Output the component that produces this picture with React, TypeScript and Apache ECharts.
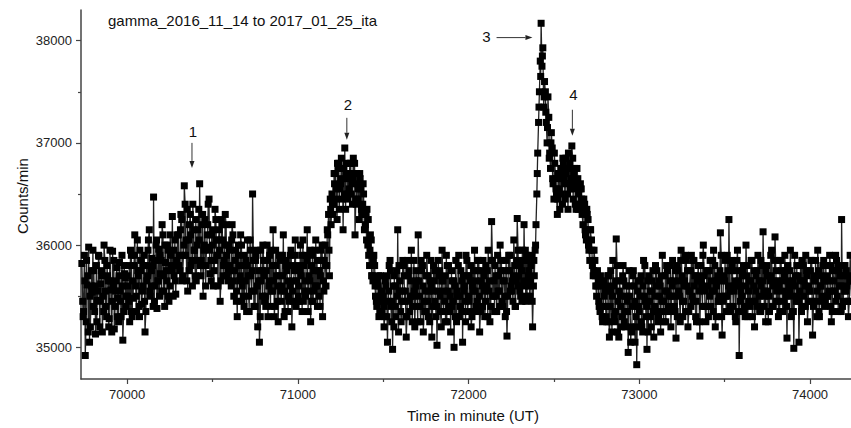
import { useEffect, useRef } from "react";
import * as echarts from "echarts";

const TITLE = "gamma_2016_11_14 to 2017_01_25_ita";
const X_NAME = "Time in minute (UT)";
const Y_NAME = "Counts/min";

// three interleaved sampling phases on a 10-minute grid:
// countsA at 69735 + 10·i, countsB at 69740 + 10·i, countsC at 69742.5 + 10·i
const START_MINUTE = 69735;
const STEP_MINUTES = 10;
const PHASE_B = 5;
const PHASE_C = 7.5;

const countsA = [
  // 69735 – 69995
  35820, 35350, 34920, 35610, 35980, 35200, 35540, 35750, 35130, 35460, 35890, 35620, 35150, 36000, 35400, 35700, 35280, 35560, 35940, 35180, 35650, 35480, 35830, 35300, 35070, 35720, 35500,
  // 70005 – 70295
  35600, 35250, 35900, 35480, 36100, 35350, 35700, 35950, 35420, 35800, 35150, 35650, 36050, 35500, 35870, 36470, 35600, 35380, 35960, 35720, 36200, 35550, 35830, 36000, 35450, 35900, 36280, 35700, 35520, 36100,
  // 70305 – 70595 (event 1)
  35900, 36300, 35700, 36580, 36050, 35550, 36200, 35800, 36400, 35950, 35650, 36150, 36600, 35850, 35500, 36250, 35980, 36400, 35720, 36100, 35600, 36350, 35900, 36050, 35450, 36200, 35800, 36300, 35700, 36000,
  // 70605 – 70995
  35750, 36200, 35500, 35950, 35300, 35800, 36100, 35600, 35400, 35850, 36050, 35350, 35700, 36500, 35550, 35900, 35200, 35050, 35650, 36000, 35450, 35750, 35300, 35900, 35550, 36150, 35400, 35700, 35250, 35850, 35600, 36100, 35350, 35750, 35500, 35900, 35200, 35650, 36050, 35450,
  // 71005 – 71195
  35600, 36000, 35350, 35800, 35500, 36150, 35700, 35250, 35900, 35550, 36050, 35400, 35750, 35950, 35300, 35850, 35600, 36100, 35700, 36200,
  // 71205 – 71495 (event 2)
  36300, 36600, 36450, 36750, 36550, 36850, 36150, 36950, 36700, 36500, 36800, 36600, 36850, 36100, 36700, 36550, 36650, 36300, 36500, 36200, 36350, 35900, 36100, 35700, 35900, 35500, 35650, 35300, 35700, 35450,
  // 71505 – 72355
  35200, 35600, 35050, 35800, 35400, 34980, 35700, 35300, 36150, 35550,
  35250, 35850, 35450, 35100, 35700, 35350, 35950, 35500, 35200, 35650,
  36100, 35400, 35750, 35150, 35550, 35900, 35300, 35650, 35100, 35800,
  35450, 35020, 35700, 35350, 35950, 35550, 35250, 35800, 35400, 35150,
  35650, 35000, 35850, 35500, 35300, 35750, 35050, 35600, 35900, 35350,
  35700, 35200, 35550, 35950, 35400, 35750, 35150, 35650, 35850, 35300,
  35600, 35950, 35250, 36230, 35500, 35800, 35350, 35700, 36000, 35450,
  35750, 35300, 35110, 35900, 35550, 35650, 36050, 35400, 36260, 35700,
  35500, 35950, 36200, 35450, 35850, 35600,
  // 72365 – 72795 (events 3 and 4)
  35800, 35200, 35700, 36200, 36900, 37500, 38170, 37930, 37600, 37200,
  37450, 36900, 37100, 36600, 36800, 36500, 36700, 36350, 36650, 36800,
  36450, 36750, 36900, 36550, 36970, 36700, 36400, 36750, 36500, 36600,
  36300, 36450, 36100, 36300, 35950, 36150, 35800, 35950, 35600, 35750,
  35400, 35650, 35250, 35500,
  // 72805 – 73195
  35300, 35700, 35100, 35550, 35850, 35250, 36060, 35450, 35650, 35200,
  35800, 35350, 35600, 34950, 35500, 35150, 35750, 35050, 34830, 35400,
  35650, 35200, 35850, 35450, 34980, 35700, 35300, 35550, 35100, 35800,
  35350, 35650, 35150, 35900, 35450, 35250, 35750, 35500, 35200, 35850,
  // 73205 – 74245
  35400, 35090, 35750, 35500, 35950, 35300, 35650, 35850, 35200, 35550,
  35900, 35450, 35700, 35250, 35800, 35110, 35600, 36000, 35400, 35750,
  35300, 35850, 35550, 35950, 35200, 35650, 35450, 36120, 35120, 35700,
  35500, 35900, 36250, 35350, 35800, 35600, 35250, 35950, 34920, 35550,
  35750, 35400, 36000, 35300, 35650, 35850, 35450, 35200, 35700, 35900,
  35350, 35600, 36130, 35500, 35800, 35250, 35650, 35950, 35400, 36080,
  35550, 35300, 35850, 35650, 35450, 35750, 35090, 35600, 35950, 35350,
  34990, 35700, 35500, 35050, 35800, 35400, 35650, 35900, 35250, 35550,
  35850, 35120, 35700, 35450, 35950, 35300, 35600, 35800, 35400, 35650,
  35500, 35900, 35250, 35750, 35550, 35850, 35350, 35700, 36250, 35450,
  35800, 35600, 35300, 35900, 35550,
];

const countsB = [
  // 69740 – 69990
  35450, 35900, 35250, 35700, 35050, 35600, 35950, 35350, 35800, 35550, 35200, 35750, 35500, 35850, 35300, 35650, 35950, 35150, 35600, 35400, 35780, 35250, 35550, 35900, 35350, 35680,
  // 70000 – 70290
  35700, 35450, 35950, 35300, 35800, 35600, 36050, 35400, 35750, 35550,
  35900, 35350, 35700, 36150, 35600, 35800, 35450, 36000, 35650, 35500,
  35850, 36100, 35400, 35750, 35950, 35600, 35800, 35500, 36050, 35850,
  // 70300 – 70590
  36100, 35750, 36250, 35900, 36400, 35650, 36050, 36300, 35850, 36150,
  35700, 36000, 36350, 35800, 36200, 35950, 35600, 36100, 36450, 35850,
  36000, 35750, 36250, 35900, 36150, 35650, 36050, 35850, 36200, 35750,
  // 70600 – 70990
  35950, 35600, 36100, 35750, 35450, 35900, 35650, 36000, 35500, 35800,
  35350, 35700, 36050, 35550, 35850, 35400, 35950, 35650, 35300, 35750,
  35850, 35500, 36000, 35600, 35400, 35800, 35650, 35950, 35450, 35700,
  35550, 35900, 35300, 35800, 35650, 35450, 35950, 35550, 35750, 35400,
  // 71000 – 71190
  35800, 35450, 35700, 36050, 35550, 35900, 35350, 35650, 35800, 35450,
  35950, 35600, 35750, 35400, 35850, 35650, 36000, 35800, 36300, 36450,
  // 71200 – 71490
  36500, 36400, 36700, 36250, 36800, 36600, 36450, 36750, 36350, 36650,
  36550, 36800, 36400, 36700, 36450, 36600, 36250, 36550, 36400, 36150,
  36300, 36000, 35800, 36050, 35650, 35800, 35450, 35600, 35350, 35550,
  // 71500 – 72350
  35500, 35300, 35700, 35450, 35850, 35250, 35600, 35400, 35750, 35150,
  35650, 35450, 35800, 35550, 35300, 35750, 35500, 35250, 35850, 35600,
  35400, 35650, 35250, 35800, 35450, 35350, 35700, 35550, 35850, 35400,
  35650, 35300, 35550, 35750, 35200, 35650, 35450, 35900, 35550, 35350,
  35750, 35450, 35600, 35250, 35800, 35500, 35350, 35700, 35450, 35850,
  35500, 35650, 35300, 35750, 35550, 35450, 35850, 35350, 35600, 35700,
  35450, 35750, 35550, 35400, 35850, 35650, 35500, 35900, 35550, 35750,
  35400, 35650, 35850, 35500, 35750, 35600, 35450, 35800, 35650, 35950,
  35550, 35750, 35850, 35600, 35900, 35700,
  // 72360 – 72790
  35500, 35900, 35600, 35950, 36500, 37200, 37800, 37750, 37350, 37500,
  37000, 37250, 36750, 36950, 36450, 36650, 36300, 36550, 36750, 36400,
  36650, 36850, 36500, 36750, 36600, 36850, 36550, 36350, 36650, 36400,
  36550, 36200, 36400, 36050, 36250, 35850, 36050, 35700, 35850, 35500,
  35650, 35350, 35600, 35400,
  // 72800 – 73190
  35550, 35250, 35700, 35400, 35150, 35600, 35350, 35800, 35100, 35500,
  35300, 35650, 35200, 35450, 35750, 35050, 35400, 35600, 35200, 35550,
  35350, 35700, 35150, 35500, 35300, 35650, 35450, 35200, 35750, 35400,
  35600, 35250, 35500, 35700, 35350, 35550, 35800, 35400, 35650, 35500,
  // 73200 – 74240
  35650, 35350, 35800, 35550, 35250, 35700, 35450, 35900, 35600, 35350,
  35750, 35500, 35850, 35300, 35650, 35550, 35800, 35400, 35700, 35250,
  35600, 35750, 35400, 35850, 35550, 35300, 35700, 35500, 35900, 35450,
  35650, 35350, 35750, 35550, 35850, 35400, 35650, 35750, 35350, 35600,
  35500, 35800, 35300, 35700, 35550, 35400, 35850, 35600, 35450, 35750,
  35650, 35350, 35800, 35550, 35250, 35700, 35500, 35900, 35400, 35650,
  35750, 35450, 35600, 35850, 35350, 35700, 35500, 35800, 35550, 35300,
  35650, 35900, 35450, 35700, 35550, 35350, 35800, 35600, 35750, 35450,
  35550, 35850, 35400, 35650, 35300, 35750, 35600, 35500, 35850, 35450,
  35700, 35550, 35800, 35350, 35650, 35900, 35500, 35750, 35600, 35400,
  35800, 35550, 35700, 35450, 35650,
];

const countsC = [
  // 69742.5 – 69992.5
  35300, 35650, 35850, 35150, 35500, 35750, 35400, 35600, 35250, 35900, 35450, 35700, 35350, 35550, 35800, 35200, 35650, 35450, 35850, 35550, 35300, 35700, 35450, 35600, 35800, 35400,
  // 70002.5 – 70292.5
  35500, 35800, 35350, 35650, 35900, 35500, 35750, 35300, 35850, 35600,
  35450, 35800, 35950, 35550, 35750, 35400, 35850, 36050, 35650, 35900,
  35550, 35700, 36000, 35650, 35500, 36100, 35750, 35950, 35650, 35800,
  // 70302.5 – 70592.5
  35800, 36150, 35650, 36000, 35900, 36350, 35750, 36100, 35600, 35950,
  36250, 35850, 36050, 35700, 36300, 36000, 35800, 36200, 35950, 35650,
  36150, 35850, 36050, 35600, 35950, 36250, 35700, 36000, 35900, 35650,
  // 70602.5 – 70992.5
  35800, 36050, 35650, 35850, 35550, 36000, 35700, 35450, 35900, 35650,
  35800, 35500, 35950, 35750, 35400, 35850, 35600, 35750, 35950, 35500,
  35700, 35400, 35850, 35650, 35950, 35550, 35300, 35800, 35600, 35900,
  35450, 35700, 35550, 35850, 35350, 35600, 35800, 35450, 35900, 35650,
  // 71002.5 – 71192.5
  35500, 35750, 35900, 35450, 35650, 35850, 35550, 35950, 35450, 35750,
  35600, 35850, 35500, 35700, 36000, 35550, 35800, 36150, 35950, 36350,
  // 71202.5 – 71492.5
  36400, 36700, 36550, 36800, 36350, 36650, 36750, 36500, 36800, 36450,
  36700, 36500, 36650, 36800, 36400, 36450, 36700, 36350, 36600, 36300,
  36050, 36250, 35950, 35700, 35850, 35600, 35400, 35700, 35500, 35350,
  // 71502.5 – 72352.5
  35400, 35650, 35300, 35550, 35750, 35450, 35200, 35600, 35500, 35800,
  35350, 35550, 35700, 35300, 35850, 35450, 35650, 35400, 35550, 35750,
  35250, 35500, 35850, 35600, 35350, 35700, 35450, 35250, 35600, 35550,
  35750, 35400, 35850, 35500, 35650, 35350, 35700, 35250, 35800, 35500,
  35400, 35650, 35300, 35550, 35900, 35400, 35650, 35550, 35250, 35700,
  35450, 35800, 35600, 35350, 35650, 35850, 35500, 35750, 35400, 35550,
  35800, 35300, 35650, 35850, 35500, 35350, 35700, 35550, 35400, 35850,
  35650, 35500, 35350, 35750, 35900, 35550, 35700, 35400, 35850, 35600,
  35800, 35450, 35650, 35950, 35500, 35750,
  // 72362.5 – 72792.5
  35650, 35450, 35850, 36000, 36700, 37350, 37650, 37850, 37450, 37300,
  37150, 36850, 37000, 36650, 36900, 36550, 36450, 36700, 36500, 36850,
  36600, 36700, 36350, 36800, 36650, 36450, 36750, 36600, 36350, 36550,
  36450, 36350, 36150, 36350, 36000, 36150, 35950, 35750, 35700, 35600,
  35450, 35700, 35300, 35650,
  // 72802.5 – 73192.5
  35400, 35600, 35250, 35750, 35500, 35300, 35650, 35150, 35550, 35400,
  35700, 35250, 35500, 35350, 35600, 35200, 35700, 35450, 35300, 35650,
  35500, 35250, 35600, 35800, 35400, 35150, 35550, 35650, 35350, 35500,
  35750, 35300, 35600, 35450, 35250, 35700, 35550, 35350, 35800, 35600,
  // 73202.5 – 74242.5
  35500, 35750, 35300, 35650, 35850, 35450, 35600, 35350, 35750, 35550,
  35400, 35850, 35600, 35450, 35700, 35250, 35650, 35900, 35550, 35400,
  35750, 35500, 35650, 35350, 35800, 35600, 35450, 35750, 35300, 35650,
  35850, 35500, 35600, 35400, 35750, 35550, 35300, 35850, 35650, 35450,
  35700, 35350, 35600, 35800, 35450, 35650, 35300, 35750, 35550, 35400,
  35500, 35850, 35650, 35400, 35750, 35550, 35350, 35700, 35600, 35850,
  35450, 35650, 35350, 35750, 35550, 35900, 35400, 35650, 35750, 35500,
  35350, 35600, 35800, 35450, 35650, 35850, 35500, 35400, 35700, 35600,
  35750, 35450, 35650, 35850, 35550, 35350, 35700, 35450, 35650, 35800,
  35500, 35650, 35400, 35750, 35550, 35450, 35800, 35600, 35350, 35700,
  35550, 35750, 35450, 35650, 35500,
];

const xMajorTicks = [70000, 71000, 72000, 73000, 74000];
const xMinorTicks = [70500, 71500, 72500, 73500];
const yMajorTicks = [35000, 36000, 37000, 38000];
const yMinorTicks = [35500, 36500, 37500];

// peak annotations (data coordinates)
const peakLabels = ["1", "2", "3", "4"];
const labelAt = [
  [70385, 37110],
  [71293, 37373],
  [72105, 38040],
  [72614, 37470],
];
const arrowFrom = [
  [70380, 37000],
  [71287, 37245],
  [72164, 38030],
  [72608, 37324],
];
const arrowTo = [
  [70380, 36755],
  [71287, 37030],
  [72374, 38030],
  [72608, 37069],
];

const FONT = "Arial, 'Liberation Sans', sans-serif";

export default function App() {
  const ref = useRef<HTMLDivElement>(null);

  useEffect(() => {
    if (!ref.current) return;
    const chart = echarts.init(ref.current, undefined, { renderer: "svg" });

    const data: number[][] = [];
    countsA.forEach((c, i) => {
      const t = START_MINUTE + i * STEP_MINUTES;
      data.push([t, c]);
      if (i < countsB.length) data.push([t + PHASE_B, countsB[i]]);
      if (i < countsC.length) data.push([t + PHASE_C, countsC[i]]);
    });

    const axisColor = "#444";
    const plainLabel = (v: number) => String(v);
    chart.setOption({
      animation: false,
      backgroundColor: "#fff",
      grid: { left: 81, top: 10, width: 770, height: 369, containLabel: false },
      xAxis: [
        {
          type: "value",
          min: 69730,
          max: 74240,
          axisLine: { show: true, lineStyle: { color: axisColor, width: 1.5 } },
          axisTick: { show: true, customValues: xMajorTicks, length: 5, lineStyle: { color: axisColor, width: 1.2 } },
          axisLabel: { customValues: xMajorTicks, formatter: plainLabel, color: "#222", fontSize: 13, fontFamily: FONT, margin: 9 },
          splitLine: { show: false },
        },
        {
          type: "value",
          min: 69730,
          max: 74240,
          position: "bottom",
          axisLine: { show: false },
          axisTick: { show: true, customValues: xMinorTicks, length: 3, lineStyle: { color: axisColor, width: 1.2 } },
          axisLabel: { show: false },
          splitLine: { show: false },
        },
      ],
      yAxis: [
        {
          type: "value",
          min: 34690,
          max: 38300,
          axisLine: { show: true, lineStyle: { color: axisColor, width: 1.5 } },
          axisTick: { show: true, customValues: yMajorTicks, length: 5, lineStyle: { color: axisColor, width: 1.2 } },
          axisLabel: { customValues: yMajorTicks, formatter: plainLabel, color: "#222", fontSize: 13, fontFamily: FONT, margin: 9 },
          splitLine: { show: false },
        },
        {
          type: "value",
          min: 34690,
          max: 38300,
          position: "left",
          axisLine: { show: false },
          axisTick: { show: true, customValues: yMinorTicks, length: 3, lineStyle: { color: axisColor, width: 1.2 } },
          axisLabel: { show: false },
          splitLine: { show: false },
        },
      ],
      series: [
        {
          type: "line",
          data,
          xAxisIndex: 0,
          yAxisIndex: 0,
          symbol: "rect",
          symbolSize: 7,
          showSymbol: true,
          showAllSymbol: true,
          itemStyle: { color: "#000" },
          lineStyle: { color: "#222", width: 1.3 },
          z: 2,
        },
      ],
    });

    const graphics: any[] = [
      {
        type: "text",
        left: 108,
        top: 13,
        style: { text: TITLE, fill: "#111", font: `15px ${FONT}` },
      },
      {
        type: "text",
        x: 473,
        y: 415,
        style: { text: X_NAME, fill: "#111", font: `15px ${FONT}`, align: "center", verticalAlign: "middle" },
      },
      {
        type: "text",
        x: 22,
        y: 196,
        rotation: Math.PI / 2,
        style: { text: Y_NAME, fill: "#111", font: `15px ${FONT}`, align: "center", verticalAlign: "middle" },
      },
    ];

    peakLabels.forEach((lab, i) => {
      const lp = chart.convertToPixel({ gridIndex: 0 }, labelAt[i]) as number[];
      const a = chart.convertToPixel({ gridIndex: 0 }, arrowFrom[i]) as number[];
      const b = chart.convertToPixel({ gridIndex: 0 }, arrowTo[i]) as number[];
      graphics.push({
        type: "text",
        x: lp[0],
        y: lp[1],
        style: { text: lab, fill: "#111", font: `15px ${FONT}`, align: "center", verticalAlign: "middle" },
      });
      const dx = b[0] - a[0];
      const dy = b[1] - a[1];
      const len = Math.sqrt(dx * dx + dy * dy);
      const ux = dx / len;
      const uy = dy / len;
      const headL = 7;
      const headW = 2.5;
      const bx = b[0] - ux * headL;
      const by = b[1] - uy * headL;
      graphics.push({
        type: "line",
        shape: { x1: a[0], y1: a[1], x2: bx, y2: by },
        style: { stroke: "#333", lineWidth: 1 },
      });
      graphics.push({
        type: "polygon",
        shape: {
          points: [
            [b[0], b[1]],
            [bx - uy * headW, by + ux * headW],
            [bx + uy * headW, by - ux * headW],
          ],
        },
        style: { fill: "#222" },
      });
    });

    chart.setOption({ graphic: graphics });

    return () => chart.dispose();
  }, []);

  return (
    <div
      ref={ref}
      style={{ position: "fixed", left: 0, top: 0, width: 851, height: 428, background: "#fff" }}
    />
  );
}
